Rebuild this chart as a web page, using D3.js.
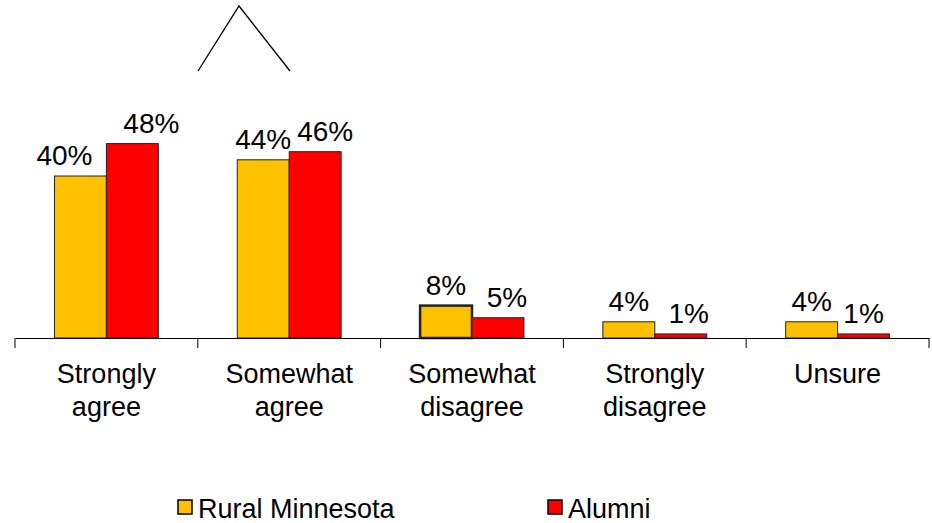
<!DOCTYPE html>
<html>
<head>
<meta charset="utf-8">
<title>Agreement</title>
<script src="https://cdn.jsdelivr.net/npm/d3@7/dist/d3.min.js"></script>
<style>
  body { margin: 0; background: #fff; }
  text { font-family: "Liberation Sans", Arial, sans-serif; fill: #000; }
</style>
</head>
<body>
<div id="chart"></div>
<script>
// data
var categories = [["Strongly", "agree"], ["Somewhat", "agree"], ["Somewhat", "disagree"], ["Strongly", "disagree"], ["Unsure"]];
var seriesNames = ["Rural Minnesota", "Alumni"];
var ruralValues = [40, 44, 8, 4, 4];
var alumniValues = [48, 46, 5, 1, 1];
var colors = ["#FFC000", "#FF0000"];

var width = 932, height = 523;
var baseY = 338;

var svg = d3.select("#chart").append("svg")
  .attr("width", width)
  .attr("height", height);

// rows: one per category, two values each
var rows = categories.map(function(c, i) {
  return { key: i, label: c, values: [ruralValues[i], alumniValues[i]] };
});

var x0 = d3.scaleBand()
  .domain(rows.map(function(d) { return d.key; }))
  .range([15, 929]);

var x1 = d3.scaleBand()
  .domain([0, 1])
  .range([0, x0.bandwidth()])
  .paddingInner(0)
  .paddingOuter(0.76);

var y = d3.scaleLinear()
  .domain([0, 50])
  .range([baseY, baseY - 202.5]);

// odd little caret at the top
svg.append("path")
  .attr("d", "M198,71L239,6L290,71")
  .attr("fill", "none")
  .attr("stroke", "#000")
  .attr("stroke-width", 1.3);

var groups = svg.selectAll("g.cat").data(rows).enter().append("g")
  .attr("class", "cat")
  .attr("transform", function(d) { return "translate(" + x0(d.key) + ",0)"; });

groups.selectAll("rect").data(function(d) {
    return d.values.map(function(v, s) { return { s: s, v: v, c: d.key }; });
  }).enter().append("rect")
  .attr("x", function(d) { return x1(d.s); })
  .attr("y", function(d) { return y(d.v); })
  .attr("width", x1.bandwidth())
  .attr("height", function(d) { return baseY - y(d.v); })
  .attr("fill", function(d) { return colors[d.s]; })
  .attr("stroke", "#222")
  .attr("stroke-width", function(d) { return (d.c == 2 && d.s == 0) ? 2.5 : 1; });

// value labels (labels were nudged by hand in the original)
var labelShift = [[-16, 19], [0, 10], [0, 9], [0, 8], [0, 0]];
groups.selectAll("text.val").data(function(d) {
    return d.values.map(function(v, s) { return { s: s, v: v, c: d.key }; });
  }).enter().append("text")
  .attr("class", "val")
  .attr("x", function(d) { return x1(d.s) + x1.bandwidth() / 2 + labelShift[d.c][d.s]; })
  .attr("y", function(d) { return y(d.v) - 11; })
  .attr("text-anchor", "middle")
  .style("font-size", "28px")
  .text(function(d) { return d.v + "%"; });

// axis
var axis = d3.axisBottom(x0).tickSize(0).tickFormat("");
var axisG = svg.append("g")
  .attr("transform", "translate(0," + baseY + ")")
  .call(axis);
axisG.select(".domain").attr("stroke", "#000").attr("stroke-width", 1);

// tick marks on category boundaries
var bounds = rows.map(function(d) { return x0(d.key); }).concat([929]);
axisG.selectAll("line.tk").data(bounds).enter().append("line")
  .attr("class", "tk")
  .attr("x1", function(d) { return d; })
  .attr("x2", function(d) { return d; })
  .attr("y1", 0)
  .attr("y2", 10)
  .attr("stroke", "#000");

// category labels
groups.each(function(d) {
  var t = d3.select(this).append("text")
    .attr("text-anchor", "middle")
    .attr("x", x0.bandwidth() / 2)
    .attr("y", 383)
    .style("font-size", "27px");
  d.label.forEach(function(line, i) {
    t.append("tspan")
      .attr("x", x0.bandwidth() / 2)
      .attr("dy", i == 0 ? 0 : 33)
      .text(line);
  });
});

// legend
var legendX = [178, 548];
var legend = svg.selectAll("g.leg").data(seriesNames).enter().append("g")
  .attr("class", "leg")
  .attr("transform", function(d, i) { return "translate(" + legendX[i] + ",500)"; });
legend.append("rect")
  .attr("width", 14).attr("height", 14)
  .attr("fill", function(d, i) { return colors[i]; })
  .attr("stroke", "#000").attr("stroke-width", 1.5);
legend.append("text")
  .attr("x", 20).attr("y", 18)
  .style("font-size", "27px")
  .text(function(d) { return d; });
</script>
</body>
</html>
